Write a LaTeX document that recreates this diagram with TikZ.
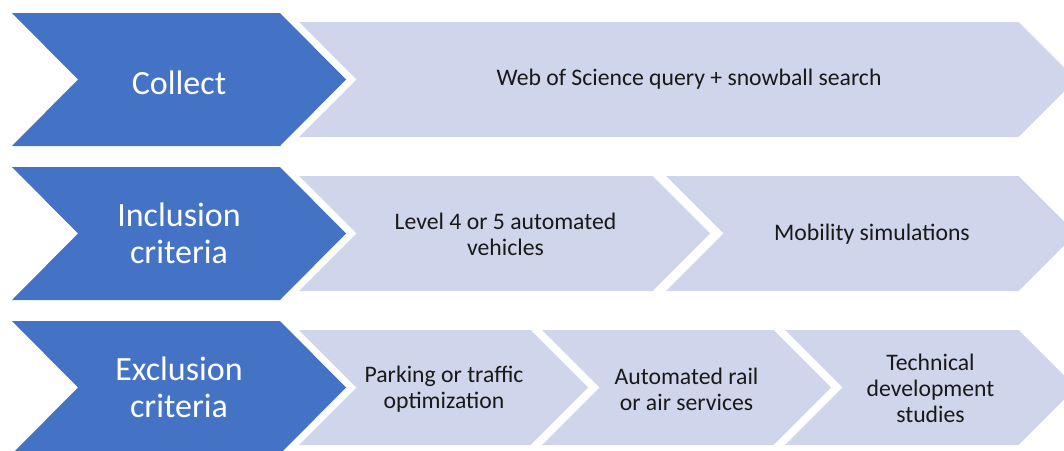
\documentclass[tikz,border=0pt]{standalone}
\usepackage{fontspec}
\setmainfont{Carlito}
\definecolor{stepblue}{HTML}{4472C4}
\definecolor{steplight}{HTML}{CFD5EA}

\begin{document}
\begin{tikzpicture}[x=1pt,y=-1pt,
    head/.style={fill=stepblue},
    part/.style={fill=steplight},
    headtext/.style={white,align=center,font=\fontsize{34}{37}\selectfont},
    parttext/.style={black!90,align=center,font=\fontsize{23.7}{26}\selectfont}]
  \path[use as bounding box] (0,0) rectangle (1064,450);
  \clip (0,0) rectangle (1064,450);

  % dark chevrons, one per row
  \foreach \y in {79.5,233.5,387.5} {
    \fill[head] (12,\y-66.5) -- (280,\y-66.5) -- (346,\y) -- (280,\y+66.5)
      -- (12,\y+66.5) -- (78,\y) -- cycle;
  }

  % light chevrons: left/tip/middle
  \foreach \l/\r/\y in {299/1076/79.5, 299/710/233.5, 666/1076/233.5,
                        299/588/387.5, 542/831/387.5, 785/1076/387.5} {
    \fill[part] (\l,\y-57.5) -- (\r-57.5,\y-57.5) -- (\r,\y) -- (\r-57.5,\y+57.5)
      -- (\l,\y+57.5) -- (\l+57.5,\y) -- cycle;
  }

  \node[headtext] (collect) at (179,82.5) {Collect};
  \node[headtext] (inclusion) at (179,233.5) {Inclusion\\criteria};
  \node[headtext] (exclusion) at (179,387.5) {Exclusion\\criteria};

  \node[parttext] (wos) at (689,79.5) {Web of Science query + snowball search};
  \node[parttext] (level) at (505.5,234) {Level 4 or 5 automated\\vehicles};
  \node[parttext] (mobility) at (872,234.5) {Mobility simulations};
  \node[parttext] (parking) at (444,389) {Parking or traffic\\optimization};
  \node[parttext] (rail) at (686.5,389) {Automated rail\\or air services};
  \node[parttext] (technical) at (930.5,388.5) {Technical\\development\\studies};
\end{tikzpicture}
\end{document}
